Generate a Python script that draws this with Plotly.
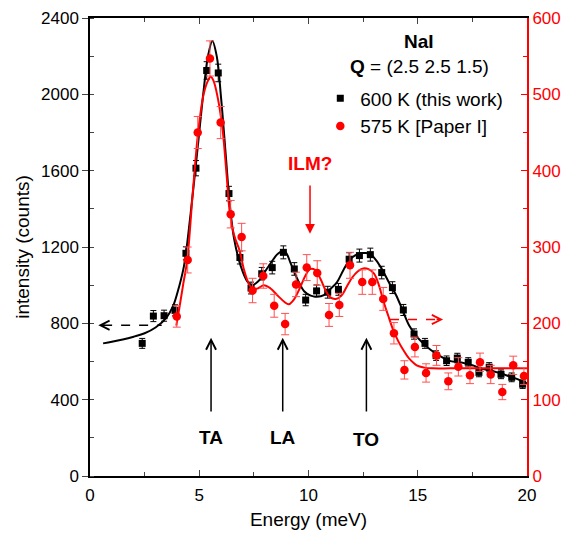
import plotly.graph_objects as go

# ---- data ----
# 600 K (this work), left axis (counts)
black_E = [2.39, 2.90, 3.39, 3.89, 4.39, 4.85, 5.34, 5.87, 6.36, 6.86, 7.37, 7.86,
           8.34, 8.85, 9.35, 9.87, 10.37, 10.88, 11.37, 11.86, 12.33, 12.83, 13.35,
           13.84, 14.34, 14.83, 15.33, 15.84, 16.32, 16.81, 17.31, 17.80, 18.27,
           18.81, 19.30, 19.80]
black_I = [695, 838, 840, 868, 1167, 1613, 2125, 2112, 1480, 1145, 985, 1060,
           1092, 1172, 1085, 922, 970, 963, 978, 1136, 1155, 1160, 1066,
           987, 870, 744, 695, 631, 604, 618, 596, 543, 570,
           533, 517, 481]
black_err = [26, 29, 29, 29, 34, 40, 46, 46, 38, 34, 31, 33,
             33, 34, 33, 30, 31, 31, 31, 34, 34, 34, 33,
             31, 29, 27, 26, 25, 25, 25, 24, 23, 24,
             23, 23, 22]

# 575 K [Paper I], right axis
red_E = [3.97, 4.47, 4.93, 5.49, 5.98, 6.44, 6.94, 7.44, 7.93, 8.43, 8.93, 9.43,
         9.92, 10.40, 10.94, 11.41, 11.90, 12.46, 12.92, 13.42, 13.91, 14.39,
         14.87, 15.38, 15.86, 16.40, 16.86, 17.39, 17.85, 18.34, 18.87, 19.37, 19.86]
red_I = [209, 283, 450, 547, 463, 343, 313, 243, 262, 223, 199, 251,
         273, 266, 211, 224, 276, 254, 254, 232, 187, 139,
         169, 135, 158, 124, 143, 132, 149, 133, 110, 145, 131]
red_err = [14, 17, 21, 23, 21, 18, 18, 16, 16, 15, 14, 16,
           17, 16, 15, 15, 17, 16, 16, 15, 14, 12,
           13, 12, 13, 11, 12, 11, 12, 12, 10, 12, 11]

# fit curves
black_fit_E = [0.6, 1.0, 1.5, 2.0, 2.5, 3.0, 3.5, 3.8, 4.0, 4.3, 4.6, 4.9, 5.2, 5.4,
               5.6, 5.8, 6.0, 6.2, 6.4, 6.6, 6.9, 7.2, 7.4, 7.7, 8.0, 8.3, 8.6, 8.9,
               9.2, 9.5, 9.8, 10.1, 10.4, 10.7, 11.0, 11.3, 11.6, 11.9, 12.2, 12.5,
               12.8, 13.1, 13.4, 13.7, 14.0, 14.3, 14.6, 14.9, 15.2, 15.6, 16.0,
               16.5, 17.0, 17.5, 18.0, 18.5, 19.0, 19.5, 20.0]
black_fit_I = [695, 703, 715, 730, 748, 778, 830, 890, 960, 1100, 1370, 1690, 2020, 2200,
               2280, 2200, 1980, 1700, 1420, 1240, 1100, 1020, 1000, 1020, 1070, 1120, 1165, 1180,
               1110, 1030, 968, 945, 940, 948, 980, 1015, 1080, 1135, 1160, 1168,
               1165, 1130, 1075, 1010, 950, 870, 790, 740, 700, 660, 630,
               602, 595, 580, 560, 548, 530, 510, 485]

red_fit_E = [3.95, 4.1, 4.27, 4.45, 4.7, 4.96, 5.2, 5.4, 5.52, 5.65, 5.85, 6.07, 6.25,
             6.4, 6.6, 6.85, 7.05, 7.25, 7.45, 7.7, 7.95, 8.25, 8.6, 8.9, 9.1, 9.35,
             9.6, 9.85, 10.07, 10.3, 10.55, 10.8, 11.0, 11.25, 11.5, 11.75, 12.0,
             12.25, 12.5, 12.75, 13.0, 13.2, 13.42, 13.65, 13.88, 14.1, 14.34, 14.6,
             14.95, 15.3, 15.7, 16.5, 18.0, 20.0]
red_fit_I = [197, 222, 252, 283, 370, 453, 500, 518, 523, 518, 495, 453, 395,
             345, 315, 295, 270, 253, 245, 246, 250, 246, 236, 228, 225, 232,
             246, 262, 271, 270, 258, 242, 234, 232, 236, 248, 260,
             268, 272, 271, 265, 252, 230, 210, 191, 177, 165, 154,
             145, 142, 141, 141, 141, 141]

FONT = "Liberation Sans, Arial, sans-serif"
RED = "#ff0000"

fig = go.Figure()

fig.add_trace(go.Scatter(x=black_fit_E, y=black_fit_I, mode="lines", line_shape="spline",
                         line=dict(color="black", width=2), showlegend=False, hoverinfo="skip"))
fig.add_trace(go.Scatter(x=red_fit_E, y=red_fit_I, mode="lines", line_shape="spline",
                         line=dict(color=RED, width=2), yaxis="y2", showlegend=False,
                         hoverinfo="skip"))
fig.add_trace(go.Scatter(x=black_E, y=black_I, mode="markers", name="600 K (this work)",
                         marker=dict(symbol="square", size=7, color="black"),
                         error_y=dict(type="data", array=black_err, color="black",
                                      thickness=1, width=3)))
fig.add_trace(go.Scatter(x=red_E, y=red_I, mode="markers", name="575 K [Paper I]",
                         marker=dict(symbol="circle", size=8.5, color=RED), yaxis="y2",
                         error_y=dict(type="data", array=red_err, color="rgb(255,80,80)",
                                      thickness=1, width=4)))

annotations = [
    dict(x=0.753, y=0.948, xref="paper", yref="paper", xanchor="center", yanchor="middle",
         text="<b>NaI</b>", showarrow=False, font=dict(size=19, color="black")),
    dict(x=0.753, y=0.895, xref="paper", yref="paper", xanchor="center", yanchor="middle",
         text="<b>Q</b> = (2.5 2.5 1.5)", showarrow=False, font=dict(size=19, color="black")),
    dict(x=10.07, y=1635, xref="x", yref="y", xanchor="center", yanchor="middle",
         text="<b>ILM?</b>", showarrow=False, font=dict(size=19, color=RED)),
    dict(x=10.07, y=1270, ax=10.07, ay=1530, xref="x", yref="y", axref="x", ayref="y",
         text="", showarrow=True, arrowhead=2, arrowsize=1.3, arrowwidth=1.5,
         arrowcolor=RED),
]
for lab, xe, yl in [("TA", 5.54, 204), ("LA", 8.82, 204), ("TO", 12.65, 190)]:
    annotations.append(dict(x=xe, y=yl, xref="x", yref="y", xanchor="center",
                            yanchor="middle", text="<b>%s</b>" % lab,
                            showarrow=False, font=dict(size=19, color="black")))
    annotations.append(dict(x=xe, y=725, ax=xe, ay=330, xref="x", yref="y", axref="x",
                            ayref="y", text="", showarrow=True, arrowhead=5, arrowsize=1.3,
                            arrowwidth=1.5, arrowcolor="black"))
# heads of dashed arrows
annotations.append(dict(x=0.38, y=790, xref="x", yref="y", ax=8, ay=0, text="",
                        showarrow=True, arrowhead=5, arrowsize=1.4, arrowwidth=1.3,
                        arrowcolor="black"))
annotations.append(dict(x=16.16, y=205, xref="x", yref="y2", ax=-8, ay=0, text="",
                        showarrow=True, arrowhead=5, arrowsize=1.4, arrowwidth=1.3,
                        arrowcolor=RED))

shapes = [
    dict(type="line", xref="x", yref="y", x0=0.6, x1=3.28, y0=790, y1=790,
         line=dict(color="black", width=1.3, dash="dash")),
    dict(type="line", xref="x", yref="y2", x0=13.73, x1=15.9, y0=205, y1=205,
         line=dict(color=RED, width=1.3, dash="dash")),
]

fig.update_layout(
    width=573, height=537,
    margin=dict(l=90, r=46, t=18, b=61, autoexpand=False),
    paper_bgcolor="white", plot_bgcolor="white",
    font=dict(family=FONT, size=17, color="black"),
    showlegend=True,
    legend=dict(x=0.527, y=0.866, xanchor="left", yanchor="top", bgcolor="rgba(0,0,0,0)",
                font=dict(size=19), tracegroupgap=0, itemsizing="trace"),
    annotations=annotations,
    shapes=shapes,
    xaxis=dict(range=[0, 20], dtick=5, tick0=0, ticks="inside", ticklen=6, tickwidth=1,
               minor=dict(dtick=2.5, ticks="inside", ticklen=4, tickwidth=1),
               showline=True, linecolor="black", linewidth=1.5, mirror="ticks",
               showgrid=False, zeroline=False, tickfont=dict(size=17),
               automargin=False, ticklabelstandoff=3,
               title=dict(text="Energy (meV)", font=dict(size=19), standoff=9)),
    yaxis=dict(range=[0, 2400], dtick=400, tick0=0, ticks="outside", ticklen=6, tickwidth=1,
               minor=dict(dtick=200, ticks="inside", ticklen=4, tickwidth=1),
               showline=True, linecolor="black", linewidth=1.5, mirror=False,
               showgrid=False, zeroline=False, tickfont=dict(size=17), automargin=False,
               title=dict(text="intensity (counts)", font=dict(size=19), standoff=6)),
    yaxis2=dict(range=[0, 600], dtick=100, tick0=0, overlaying="y", side="right",
                ticks="inside", ticklen=6, tickwidth=1, tickcolor=RED,
                minor=dict(dtick=50, ticks="inside", ticklen=4, tickwidth=1, tickcolor=RED),
                showline=True, linecolor=RED, linewidth=2, showgrid=False, zeroline=False,
                automargin=False, tickfont=dict(size=17, color=RED)),
)

fig.write_html("out.html", config={"displayModeBar": False},
               post_script="document.body.style.margin='0px';document.body.style.overflow='hidden';")
